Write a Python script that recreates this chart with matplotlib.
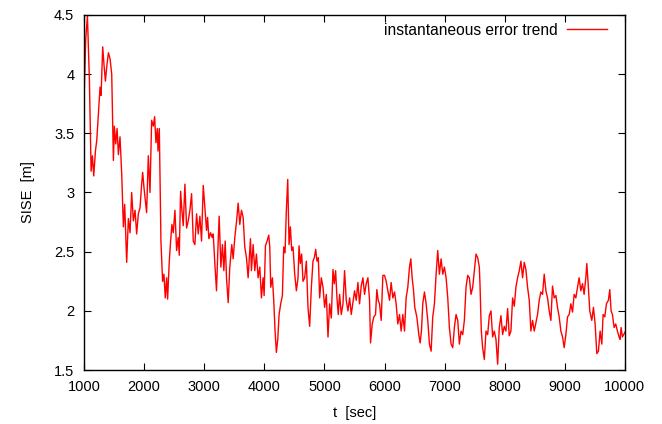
import matplotlib
matplotlib.use("Agg")
import matplotlib.pyplot as plt
from matplotlib.ticker import FuncFormatter

# values
t = [1000, 1011, 1028, 1056, 1089, 1117, 1139, 1161, 1189, 1211, 1266, 1283, 1310, 1333, 1355,
     1377, 1405, 1432, 1460, 1488, 1504, 1526, 1549, 1571, 1598, 1626, 1654, 1676, 1709, 1737,
     1765, 1792, 1820, 1848, 1875, 1903, 1931, 1958, 1975, 1997, 2041, 2069, 2097, 2124, 2152,
     2174, 2196, 2219, 2230, 2252, 2279, 2307, 2329, 2351, 2374, 2390, 2418, 2440, 2462, 2484,
     2512, 2540, 2567, 2584, 2606, 2628, 2650, 2678, 2706, 2733, 2761, 2789, 2817, 2844, 2872,
     2900, 2927, 2955, 2983, 3010, 3038, 3055, 3077, 3105, 3132, 3149, 3176, 3204, 3226, 3248,
     3276, 3303, 3326, 3348, 3370, 3398, 3425, 3442, 3458, 3481, 3508, 3536, 3564, 3591, 3619,
     3647, 3674, 3702, 3730, 3746, 3769, 3785, 3813, 3841, 3868, 3896, 3924, 3951, 3979, 3996,
     4018, 4045, 4073, 4090, 4106, 4134, 4156, 4178, 4200, 4223, 4245, 4272, 4300, 4322, 4344,
     4366, 4389, 4411, 4433, 4455, 4477, 4505, 4533, 4560, 4577, 4599, 4621, 4643, 4671, 4699,
     4726, 4754, 4782, 4809, 4832, 4854, 4876, 4898, 4920, 4948, 4976, 5003, 5031, 5059, 5086,
     5114, 5142, 5164, 5186, 5208, 5230, 5252, 5280, 5308, 5335, 5363, 5391, 5419, 5446, 5473,
     5501, 5529, 5557, 5584, 5612, 5640, 5667, 5695, 5723, 5750, 5767, 5795, 5822, 5850, 5872,
     5894, 5916, 5944, 5972, 6000, 6027, 6055, 6083, 6110, 6138, 6166, 6193, 6221, 6249, 6276,
     6304, 6332, 6359, 6387, 6415, 6437, 6459, 6481, 6503, 6537, 6570, 6592, 6614, 6636, 6664,
     6692, 6719, 6747, 6775, 6802, 6830, 6858, 6885, 6913, 6941, 6969, 6996, 7024, 7052, 7079,
     7107, 7135, 7162, 7190, 7218, 7245, 7273, 7301, 7328, 7356, 7384, 7411, 7439, 7467, 7494,
     7522, 7550, 7577, 7588, 7610, 7632, 7660, 7688, 7716, 7743, 7771, 7799, 7826, 7854, 7882,
     7909, 7937, 7965, 7992, 8020, 8048, 8075, 8103, 8131, 8159, 8186, 8214, 8242, 8269, 8297,
     8325, 8352, 8380, 8408, 8435, 8463, 8491, 8518, 8546, 8574, 8601, 8629, 8657, 8685, 8712,
     8740, 8768, 8795, 8823, 8851, 8878, 8906, 8934, 8962, 8989, 9017, 9045, 9073, 9100, 9128,
     9155, 9183, 9211, 9238, 9266, 9294, 9321, 9349, 9366, 9388, 9415, 9449, 9476, 9504, 9532,
     9559, 9587, 9615, 9637, 9665, 9692, 9725, 9748, 9770, 9792, 9820, 9847, 9875, 9903, 9919,
     9936, 9958, 10000]
sise = [3.80, 4.01, 4.30, 4.49, 3.94, 3.18, 3.31, 3.14, 3.35, 3.44, 3.89, 3.82, 4.23, 4.07, 3.94,
        4.06, 4.18, 4.13, 4.00, 3.27, 3.56, 3.41, 3.54, 3.32, 3.47, 3.16, 2.71, 2.90, 2.41, 2.78,
        2.66, 3.00, 2.76, 2.85, 2.65, 2.82, 2.87, 3.07, 3.17, 3.04, 2.83, 3.31, 3.00, 3.61, 3.56,
        3.64, 3.42, 3.54, 3.35, 3.54, 2.59, 2.25, 2.31, 2.11, 2.28, 2.10, 2.42, 2.59, 2.73, 2.66,
        2.85, 2.51, 2.62, 2.47, 3.01, 2.85, 2.72, 3.07, 2.70, 2.76, 2.85, 2.99, 2.59, 2.56, 2.82,
        2.65, 2.80, 2.59, 3.06, 2.87, 2.68, 2.79, 2.61, 2.66, 2.62, 2.65, 2.40, 2.17, 2.51, 2.80,
        2.37, 2.56, 2.34, 2.59, 2.28, 2.07, 2.37, 2.47, 2.56, 2.44, 2.62, 2.75, 2.91, 2.73, 2.85,
        2.79, 2.54, 2.45, 2.28, 2.41, 2.61, 2.34, 2.56, 2.34, 2.48, 2.28, 2.37, 2.11, 2.28, 2.13,
        2.55, 2.59, 2.64, 2.54, 2.20, 2.28, 2.09, 1.83, 1.65, 1.76, 1.97, 2.06, 2.13, 2.54, 2.49,
        2.85, 3.11, 2.56, 2.71, 2.51, 2.54, 2.31, 2.17, 2.28, 2.55, 2.40, 2.48, 2.25, 2.28, 2.42,
        2.03, 1.87, 2.20, 2.42, 2.45, 2.52, 2.42, 2.45, 2.11, 2.28, 2.20, 2.03, 2.14, 1.78, 2.06,
        1.94, 2.35, 2.23, 2.34, 2.11, 1.97, 2.14, 1.97, 2.06, 2.34, 2.09, 2.00, 2.11, 1.97, 2.07,
        2.17, 2.09, 2.24, 2.06, 2.21, 2.28, 2.14, 2.23, 2.28, 2.09, 1.73, 1.89, 1.95, 1.97, 2.18,
        2.09, 2.06, 1.92, 2.30, 2.30, 2.25, 2.17, 2.09, 2.24, 2.11, 2.16, 2.06, 1.89, 1.97, 1.83,
        1.97, 1.83, 2.11, 2.20, 2.37, 2.44, 2.28, 2.18, 2.03, 1.95, 1.80, 1.73, 1.83, 2.06, 2.16,
        2.06, 1.92, 1.72, 1.66, 1.95, 2.06, 2.31, 2.51, 2.31, 2.44, 2.31, 2.37, 2.28, 2.11, 1.86,
        1.72, 1.69, 1.86, 1.97, 1.92, 1.72, 1.83, 1.80, 1.92, 2.20, 2.30, 2.28, 2.14, 2.20, 2.34,
        2.48, 2.45, 2.37, 2.23, 1.83, 1.69, 1.59, 1.83, 1.80, 1.96, 2.00, 1.78, 1.83, 1.76, 1.55,
        1.86, 1.96, 1.80, 1.87, 1.83, 2.02, 1.79, 1.83, 2.11, 2.04, 2.20, 2.28, 2.34, 2.42, 2.28,
        2.41, 2.35, 2.20, 2.09, 1.83, 1.92, 1.83, 1.90, 1.97, 2.09, 2.16, 2.14, 2.31, 2.17, 2.11,
        2.00, 1.92, 2.21, 2.11, 2.13, 2.03, 1.95, 1.83, 1.78, 1.69, 1.80, 1.95, 1.97, 2.06, 1.99,
        2.14, 2.11, 2.20, 2.28, 2.17, 2.23, 2.14, 2.28, 2.40, 2.23, 2.00, 1.92, 2.03, 1.89, 1.64,
        1.66, 1.83, 1.72, 1.97, 1.95, 2.06, 2.09, 2.18, 2.00, 1.97, 1.86, 1.89, 1.83, 1.78, 1.76,
        1.86, 1.78, 1.82]

xticks = [1000, 2000, 3000, 4000, 5000, 6000, 7000, 8000, 9000, 10000]
yticks = [1.5, 2, 2.5, 3, 3.5, 4, 4.5]

plt.rcParams['font.family'] = ['Liberation Sans', 'DejaVu Sans']
plt.rcParams['font.size'] = 10.5

fig = plt.figure(figsize=(6.62, 4.24), dpi=100)
ax = fig.add_axes([0.127, 0.127, 0.817, 0.838])
ax.plot(t, sise, color='red', lw=1.0, label='instantaneous error trend')

ax.set_xlim(1000, 10000)
ax.set_ylim(1.5, 4.5)
ax.set_xticks(xticks)
ax.set_yticks(yticks)
ax.yaxis.set_major_formatter(FuncFormatter(lambda v, p: '%g' % v))
ax.tick_params(direction='in', top=True, right=True, length=5, width=0.8, pad=7)
for s in ax.spines.values():
    s.set_linewidth(1.0)

ax.set_xlabel('t  [sec]', labelpad=9)
ax.set_ylabel('SISE  [m]', labelpad=14)

ax.legend(loc='upper right', bbox_to_anchor=(0.967, 0.978), frameon=False,
          markerfirst=False, handlelength=2.6, borderaxespad=0, borderpad=0,
          handletextpad=0.6, fontsize=11.2)

fig.savefig('out.png', dpi=100)
